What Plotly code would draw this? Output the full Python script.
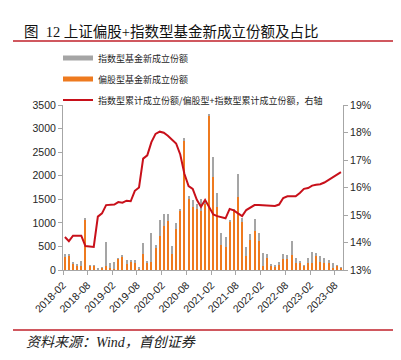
import plotly.graph_objects as go

# ---- data ----
months = []
for y in range(2018, 2024):
    for m in range(1, 13):
        s = f"{y}-{m:02d}"
        if "2018-02" <= s <= "2023-09":
            months.append(s)

equity_biased = [275, 310, 140, 105, 85, 1080, 90, 85, 15, 55,
                 85, 40, 30, 235, 290, 135, 180, 155, 42, 350,
                 160, 177, 470, 730, 940, 1040, 335, 865, 1255, 2745,
                 1510, 1340, 1300, 1258, 1400, 3280, 1965, 1335, 530, 478,
                 1020, 1250, 1555, 1020, 297, 640, 834, 622, 92, 247,
                 92, 70, 127, 240, 233, 325, 155, 155, 92, 141,
                 155, 304, 177, 155, 141, 50, 85, 50]

index_fund = [75, 15, 20, 15, 110, 25, 15, 15, 20, 7,
              505, 110, 145, 10, 10, 85, 35, 55, 14, 215,
              35, 613, 70, 330, 250, 150, 180, 125, 45, 55,
              50, 140, 100, 240, 30, 20, 435, 300, 248, 232,
              35, 50, 480, 75, 183, 120, 241, 170, 262, 93,
              28, 15, 36, 100, 78, 290, 92, 29, 14, 106,
              220, 50, 120, 92, 71, 91, 7, 7]

ratio_pct = [14.20, 14.05, 14.25, 14.25, 14.25, 13.87, 13.85, 13.84, 14.94, 15.06,
             15.36, 15.36, 15.38, 15.47, 15.45, 15.52, 15.50, 15.88, 16.00, 17.05,
             17.17, 17.65, 17.95, 18.03, 17.99, 17.88, 17.75, 17.60, 17.20, 16.50,
             16.05, 15.95, 15.55, 15.30, 15.55, 15.25, 15.02, 14.96, 14.92, 14.88,
             15.22, 15.17, 15.06, 14.96, 15.18, 15.26, 15.36, 15.36, 15.35, 15.33,
             15.32, 15.33, 15.38, 15.62, 15.68, 15.67, 15.68, 15.80, 15.95, 15.98,
             16.07, 16.10, 16.12, 16.18, 16.28, 16.36, 16.45, 16.56]

name_index = "指数型基金新成立份额"
name_equity = "偏股型基金新成立份额"
name_ratio = "指数型累计成立份额/偏股型+指数型累计成立份额，右轴"

GRAY = "#A5A5A5"
ORANGE = "#EE7A1F"
RED = "#C8101A"
AXIS = "#A6A6A6"
TXT = "#262626"
CJK = "Noto Sans CJK SC"
SERIF_CJK = "Liberation Serif, Noto Sans CJK SC"
SANS = "Liberation Sans, Arial"

bar_w = 15 * 24 * 3600 * 1000  # ms

fig = go.Figure()
fig.add_trace(go.Bar(x=months, y=equity_biased, name=name_equity, marker=dict(color=ORANGE, line=dict(width=0)),
                     xperiod="M1", xperiodalignment="middle", width=bar_w, showlegend=False))
fig.add_trace(go.Bar(x=months, y=index_fund, name=name_index, marker=dict(color=GRAY, line=dict(width=0)),
                     xperiod="M1", xperiodalignment="middle", width=bar_w, showlegend=False))
fig.add_trace(go.Scatter(x=months, y=ratio_pct, yaxis="y2", mode="lines", name=name_ratio,
                         xperiod="M1", xperiodalignment="middle",
                         line=dict(color=RED, width=2), showlegend=False))

# legend entries (thick-line swatches like the reference)
fig.add_trace(go.Scatter(x=[None], y=[None], mode="lines", name=name_index,
                         line=dict(color=GRAY, width=5), legendgroup="a", legendrank=1))
fig.add_trace(go.Scatter(x=[None], y=[None], mode="lines", name=name_equity,
                         line=dict(color=ORANGE, width=5), legendgroup="b", legendrank=2))
fig.add_trace(go.Scatter(x=[None], y=[None], mode="lines", name=name_ratio, yaxis="y2",
                         line=dict(color=RED, width=2), legendgroup="c", legendrank=3))

# page body has an 8px default margin, so the figure is offset by OFF
OFF = 8
L, T = 63 - OFF, 105 - OFF
pw, ph = 280, 165
W, H = 401 - OFF, 360 - OFF
R = W - L - pw
B = H - T - ph


def px(xs):  # screen x -> paper
    return (xs - OFF - L) / pw


def py(ys):  # screen y -> paper
    return (T + ph - (ys - OFF)) / ph


fig.update_layout(
    width=W, height=H,
    margin=dict(l=L, r=R, t=T, b=B, pad=0),
    paper_bgcolor="white", plot_bgcolor="white",
    barmode="stack",
    showlegend=True,
    legend=dict(x=px(58), y=py(43.5), xanchor="left", yanchor="top",
                font=dict(family=CJK, size=9, color=TXT),
                tracegroupgap=2, itemwidth=30, bgcolor="rgba(0,0,0,0)"),
    xaxis=dict(
        type="date",
        range=["2018-02-01", "2023-10-01"],
        tick0="2018-02-01", dtick="M6", tickformat="%Y-%m",
        tickangle=-45,
        showgrid=False, zeroline=False,
        showline=True, linecolor=AXIS, linewidth=1,
        ticks="outside", ticklen=4, tickcolor=AXIS,
        tickfont=dict(family=SANS, size=10.5, color=TXT),
    ),
    yaxis=dict(
        range=[0, 3500], dtick=500, tick0=0,
        showgrid=False, zeroline=False,
        showline=True, linecolor=AXIS, linewidth=1,
        ticks="outside", ticklen=4, tickcolor=AXIS,
        tickfont=dict(family=SANS, size=10.5, color=TXT),
    ),
    yaxis2=dict(
        overlaying="y", side="right",
        range=[13, 19], dtick=1, tick0=13, ticksuffix="%",
        showgrid=False, zeroline=False,
        showline=True, linecolor=AXIS, linewidth=1,
        ticks="outside", ticklen=4, tickcolor=AXIS,
        tickfont=dict(family=SANS, size=10.5, color=TXT),
    ),
    shapes=[
        dict(type="line", xref="paper", yref="paper", x0=px(13), x1=px(398), y0=py(41), y1=py(41),
             line=dict(color="#C0202A", width=1.5)),
        dict(type="line", xref="paper", yref="paper", x0=px(13), x1=px(398), y0=py(330), y1=py(330),
             line=dict(color="#C0202A", width=1.5)),
    ],
    annotations=[
        dict(xref="paper", yref="paper", x=px(22), y=py(32), xanchor="left", yanchor="middle",
             text="图\u00a0\u00a012 上证偏股+指数型基金新成立份额及占比", showarrow=False,
             font=dict(family=SERIF_CJK, size=14.5, color="#111111")),
        dict(xref="paper", yref="paper", x=px(24), y=py(342), xanchor="left", yanchor="middle",
             text="<i>资料来源：Wind，首创证券</i>", showarrow=False,
             font=dict(family=SERIF_CJK, size=14, color="#222222")),
    ],
)

fig.write_html("out.html")
